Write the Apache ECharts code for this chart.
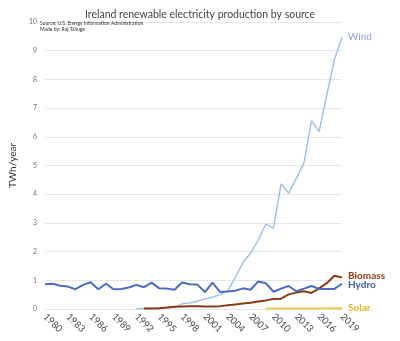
<!DOCTYPE html>
<html><head><meta charset="utf-8">
<script src="https://cdn.jsdelivr.net/npm/echarts@6/dist/echarts.min.js"></script>
<style>html,body{margin:0;padding:0;background:#fff}#c{width:400px;height:341px}</style>
</head><body><div id="c"></div>
<script>
const years = [];
for (let y = 1980; y <= 2019; y++) years.push(String(y));
const hydro = [0.86,0.88,0.81,0.78,0.69,0.84,0.93,0.69,0.88,0.69,0.70,0.75,0.84,0.76,0.92,0.72,0.71,0.67,0.92,0.86,0.85,0.59,0.92,0.59,0.61,0.64,0.72,0.67,0.96,0.90,0.60,0.71,0.80,0.62,0.71,0.80,0.70,0.70,0.70,0.88];
const wind = [null,null,null,null,null,null,null,null,null,null,null,null,0.01,0.02,0.03,0.03,0.04,0.05,0.18,0.21,0.27,0.35,0.41,0.50,0.64,1.10,1.62,1.95,2.40,2.96,2.82,4.36,4.03,4.55,5.08,6.56,6.18,7.45,8.68,9.48];
const biomass = [null,null,null,null,null,null,null,null,null,null,null,null,null,0.02,0.02,0.03,0.05,0.08,0.09,0.10,0.10,0.09,0.09,0.10,0.13,0.16,0.19,0.22,0.26,0.30,0.35,0.36,0.51,0.57,0.62,0.56,0.72,0.90,1.16,1.10];
const solar = [null,null,null,null,null,null,null,null,null,null,null,null,null,null,null,null,null,null,null,null,null,null,null,null,null,null,null,null,null,0.02,0.02,0.02,0.02,0.02,0.02,0.02,0.02,0.03,0.03,0.03];
const yTicks = [0,1,2,3,4,5,6,7,8,9,10];

const chart = echarts.init(document.getElementById('c'));
const FONT = 'Lato';
function ser(name, data, color, width, lblColor, bold, off) {
  return {
    name, type: 'line', data, showSymbol: false, symbol: 'none',
    lineStyle: { color, width }, itemStyle: { color },
    connectNulls: false, animation: false,
    endLabel: { show: true, formatter: name, color: lblColor, fontFamily: FONT,
      fontSize: 10, fontWeight: bold ? 'bold' : 'normal', offset: off, distance: 4 }
  };
}
chart.setOption({
  animation: false,
  textStyle: { fontFamily: FONT },
  title: [
    { text: 'Ireland renewable electricity production by source', left: 'center', top: 4,
      textStyle: { fontFamily: FONT, fontSize: 10.5, fontWeight: 'normal', color: '#444' } },
    { text: 'Source: U.S. Energy Information Administration\nMade by: Raj Talluge', left: 35, top: 15,
      textStyle: { fontFamily: FONT, fontSize: 5, fontWeight: 'normal', color: '#333', lineHeight: 6 } }
  ],
  grid: { left: 37, right: 58, top: 22, bottom: 32 },
  xAxis: {
    type: 'category', data: years, boundaryGap: false,
    axisLine: { show: false }, axisTick: { show: false },
    axisLabel: { interval: 2, rotate: -45, color: '#444', fontSize: 9.5, fontFamily: FONT, margin: 6 }
  },
  yAxis: {
    type: 'value', min: 0, max: 10, interval: 1,
    name: 'TWh/year', nameLocation: 'middle', nameGap: 20,
    nameTextStyle: { color: '#333', fontSize: 10, fontFamily: FONT },
    axisLabel: { color: '#777', fontSize: 7, fontFamily: FONT, margin: 8,
      formatter: v => yTicks.includes(v) ? String(v) : '' },
    axisLine: { show: false }, axisTick: { show: false },
    splitLine: { lineStyle: { color: '#e6e6e6', width: 1 } }
  },
  series: [
    ser('Wind', wind, '#a3c2e6', 1.5, '#8e9ed6', false, [2, 0]),
    ser('Solar', solar, '#f0c94c', 2, '#e0b824', true, [2, 0]),
    ser('Biomass', biomass, '#8b3a12', 2, '#8b3a12', true, [2, -2]),
    ser('Hydro', hydro, '#4a6cc0', 2, '#3d5fb0', true, [2, 1])
  ]
});
</script></body></html>
